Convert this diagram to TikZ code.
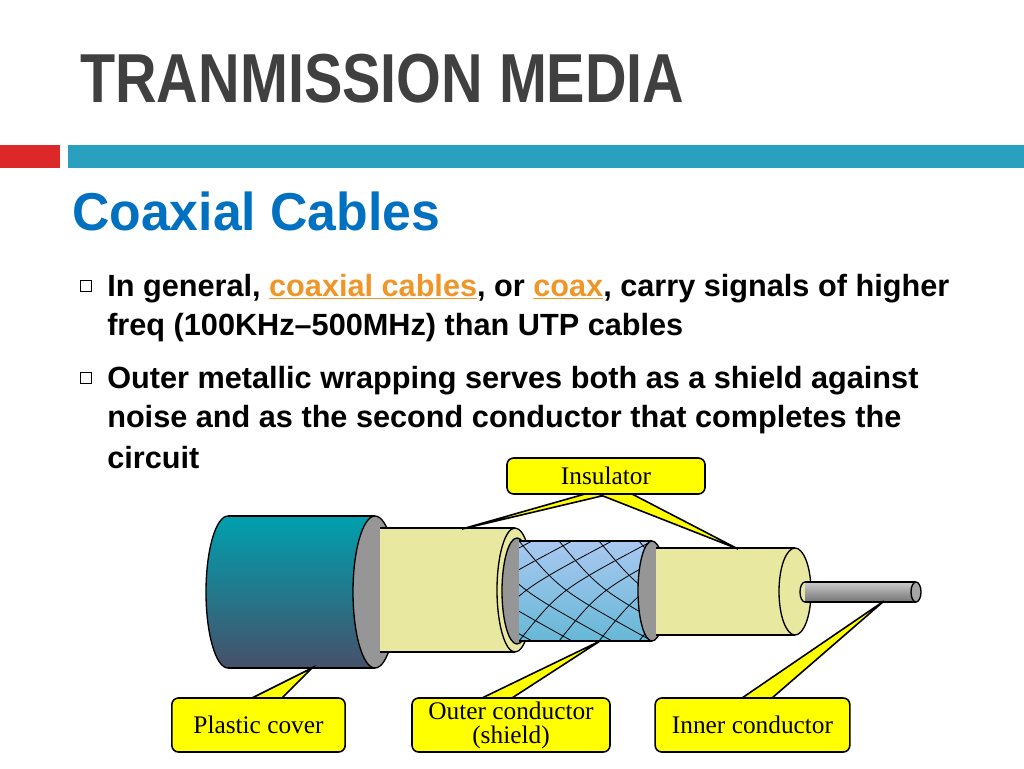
\documentclass[tikz,border=0pt]{standalone}
\usepackage{fontspec}
\setmainfont{Liberation Sans}
\newfontfamily\titlefont[FakeStretch=0.83]{Liberation Sans}
\newfontfamily\headfont[FakeStretch=0.97]{Liberation Sans}
\newfontfamily\bodyfont{Liberation Sans}
\newfontfamily\labfont{Liberation Serif}
\definecolor{titlegray}{RGB}{64,64,64}
\definecolor{barred}{RGB}{220,40,40}
\definecolor{barteal}{RGB}{40,160,190}
\definecolor{headblue}{RGB}{0,112,192}
\definecolor{linkor}{RGB}{240,150,40}
\definecolor{insy}{RGB}{232,232,160}
\definecolor{ringg}{RGB}{150,150,150}
\definecolor{cyt}{RGB}{0,160,175}
\definecolor{cyd}{RGB}{70,80,105}
\definecolor{shb}{RGB}{170,200,240}
\definecolor{calloutY}{RGB}{255,255,0}
\tikzset{
  body/.style={font=\bodyfont\bfseries\fontsize{23}{27}\selectfont, anchor=base west, inner sep=0pt},
  bul/.style={draw=black, line width=0.8pt, minimum size=8.5pt, inner sep=0pt},
  lab/.style={draw=black, line width=1.2pt, fill=calloutY, rounded corners=5pt, font=\labfont\fontsize{19}{18}\selectfont, align=center, inner sep=0pt},
  ptr/.style={draw=black, line width=1.2pt, fill=calloutY},
  edge/.style={draw=black, line width=1pt}
}
\newcommand{\lk}[1]{\textcolor{linkor}{\underline{#1}}}
\begin{document}
\begin{tikzpicture}[x=0.75pt,y=-0.75pt]
\useasboundingbox (0,0) rectangle (1024,768);
\fill[white] (0,0) rectangle (1024,768);
% header
\node[anchor=base west, inner sep=0pt, text=titlegray, font=\titlefont\bfseries\fontsize{52}{56}\selectfont] (title) at (80,102) {TRANMISSION MEDIA};
\fill[barred] (0,145) rectangle (60,168);
\fill[barteal] (68,145) rectangle (1024,168);
\node[anchor=base west, inner sep=0pt, text=headblue, font=\headfont\bfseries\fontsize{40}{44}\selectfont] (head) at (72,230) {Coaxial Cables};
% bullets
\node[bul] (b1) at (86,286) {};
\node[bul] (b2) at (86,378) {};
\node[body] (l1) at (107,296) {In general, \lk{coaxial cables}, or \lk{coax}, carry signals of higher};
\node[body] (l2) at (107,335) {freq (100KHz–500MHz) than UTP cables};
\node[body] (l3) at (107,388) {Outer metallic wrapping serves both as a shield against};
\node[body] (l4) at (107,427) {noise and as the second conductor that completes the};
\node[body] (l5) at (107,468) {circuit};
% plastic cover
\shade[top color=cyt, bottom color=cyd] (228,592) ellipse [x radius=22, y radius=76];
\shade[top color=cyt, bottom color=cyd] (228,516) rectangle (375,668);
\draw[edge] (228,516) -- (375,516) (228,668) -- (375,668);
\draw[edge] (228,516) arc[start angle=270, end angle=90, x radius=22, y radius=76];
\draw[edge, fill=ringg] (375,592) ellipse [x radius=22, y radius=76];
% outer insulator
\fill[insy] (380,528) rectangle (515,652);
\draw[edge] (380,528) -- (515,528) (380,652) -- (515,652);
\draw[edge, fill=insy] (515,590) ellipse [x radius=18, y radius=62];
\draw[edge, fill=ringg] (517,591) ellipse [x radius=15, y radius=53];
% shield
\begin{scope}
\clip (519,541) rectangle (652,641);
\shade[top color=shb, bottom color=shb!60!cyt] (519,541) rectangle (652,641);
\foreach \s in {-120,-80,-40,0,40,80,120,160}{
  \draw[black, line width=0.6pt] (519+\s,641) .. controls (560+\s,590) .. (652+\s,541);
  \draw[black, line width=0.6pt] (519+\s,541) .. controls (560+\s,590) .. (652+\s,641);
}
\end{scope}
\draw[edge] (519,541) -- (652,541) (519,641) -- (652,641);
\draw[edge, fill=ringg] (652,591) ellipse [x radius=14, y radius=50];
% inner insulator
\fill[insy] (656,548) rectangle (795,635);
\draw[edge] (656,548) -- (795,548) (656,635) -- (795,635);
\draw[edge, fill=insy] (795,591.5) ellipse [x radius=16, y radius=43.5];
% conductor
\shade[top color=gray!40, bottom color=gray!90!black] (805,582) rectangle (916,602);
\draw[edge] (805,582) -- (916,582) (805,602) -- (916,602);
\draw[edge] (805,582) arc[start angle=270, end angle=90, x radius=5, y radius=10];
\draw[edge, fill=gray!70] (916,592) ellipse [x radius=5, y radius=10];
% callouts
\draw[ptr] (585,494) -- (462,529) -- (610,494);
\draw[ptr] (598,494) -- (738,549) -- (632,494);
\draw[ptr] (252,698) -- (312,668) -- (282,698);
\draw[ptr] (482,698) -- (600,641) -- (512,698);
\draw[ptr] (742,698) -- (884,601) -- (772,698);
\node[lab, minimum width=148.5pt, minimum height=27pt] (ins) at (606,476) {Insulator};
\node[lab, minimum width=130pt, minimum height=40.5pt] (pc) at (258.5,725) {Plastic cover};
\node[lab, minimum width=148.5pt, minimum height=40.5pt] (oc) at (511,725) {Outer conductor\\(shield)};
\node[lab, minimum width=146pt, minimum height=40.5pt] (ic) at (752.5,725) {Inner conductor};
\end{tikzpicture}
\end{document}
